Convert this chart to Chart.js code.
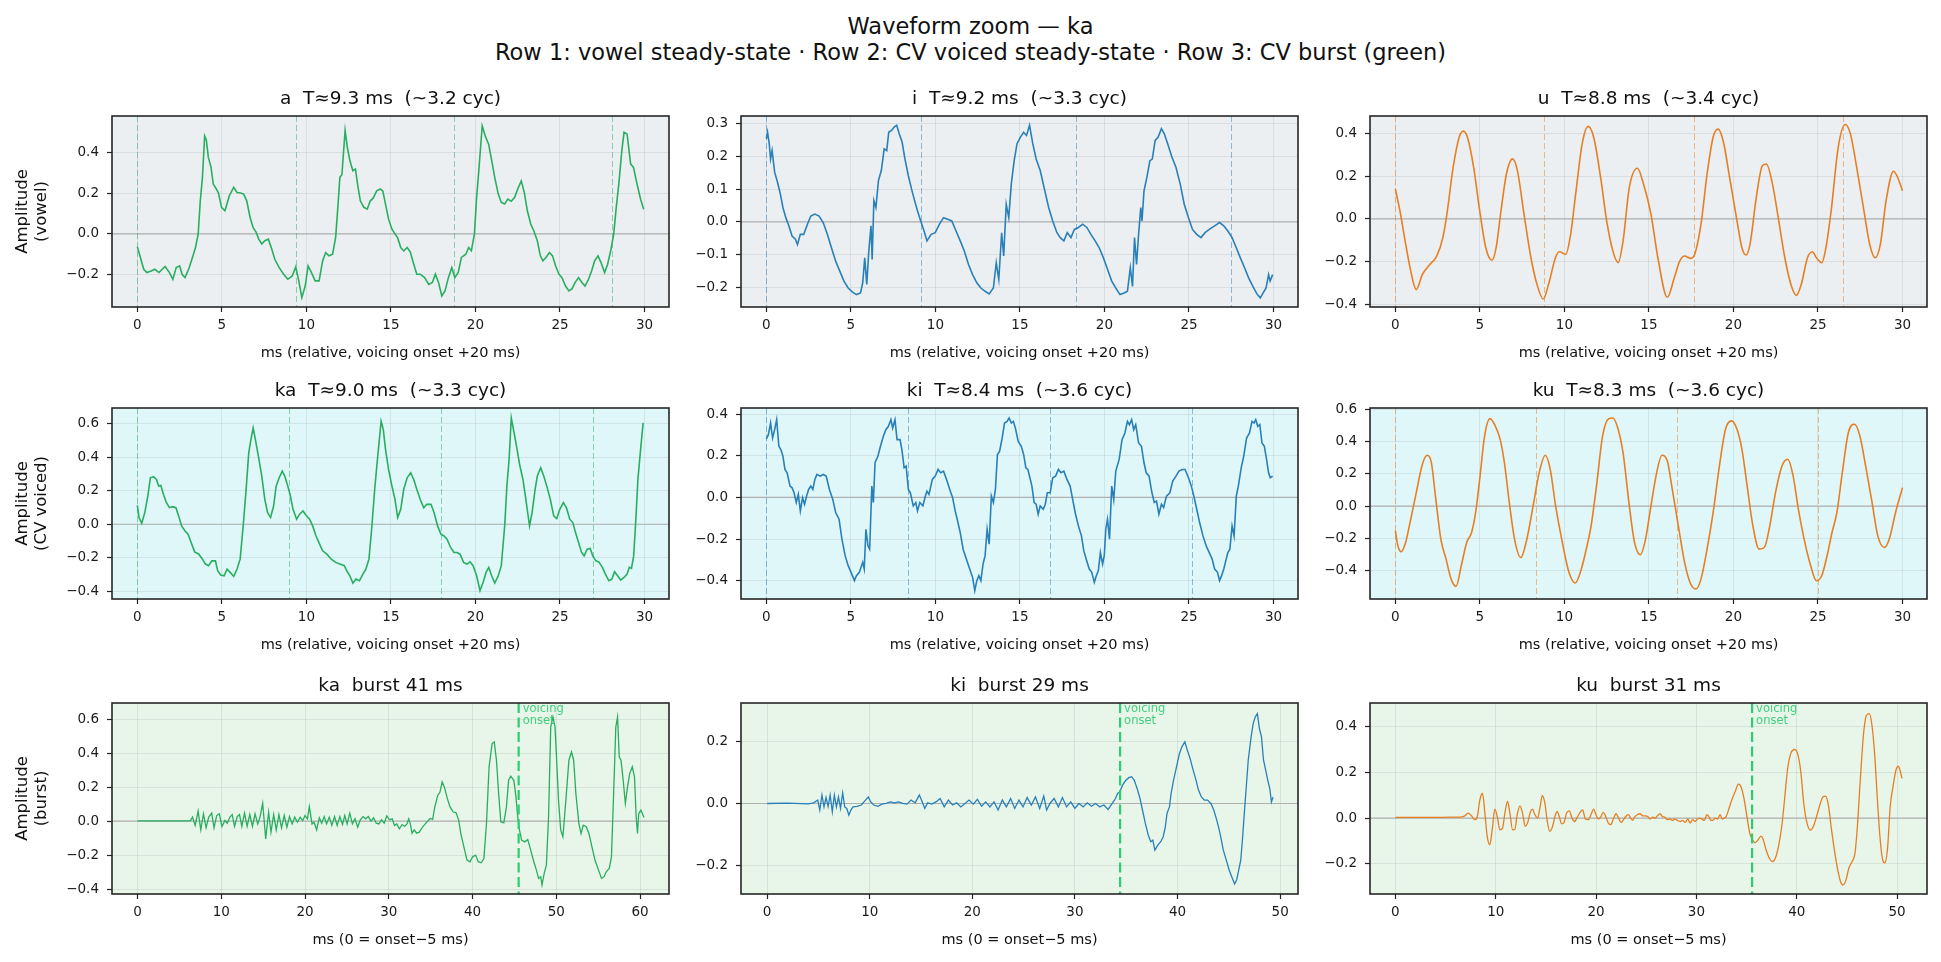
<!DOCTYPE html>
<html><head><meta charset="utf-8">
<script src="https://cdn.jsdelivr.net/npm/chart.js@4.4.1/dist/chart.umd.min.js"></script>
<style>
html,body{margin:0;padding:0;background:#fff;}
body{width:1941px;height:962px;position:relative;overflow:hidden;font-family:'DejaVu Sans',sans-serif;}
#sup{position:absolute;left:0;top:13px;width:1941px;text-align:center;font-size:22.5px;line-height:26px;color:#111;}
canvas{position:absolute;}
</style></head><body>
<div id="sup">Waveform zoom — ka<br>Row 1: vowel steady-state · Row 2: CV voiced steady-state · Row 3: CV burst (green)</div>
<script>
// ---------------- data (ms, amplitude) ----------------
const wave_a = [[0,-0.064],[0.18,-0.116],[0.38,-0.174],[0.56,-0.19],[0.82,-0.182],[1.03,-0.174],[1.28,-0.19],[1.64,-0.16],[1.9,-0.19],[2.1,-0.223],[2.3,-0.165],[2.5,-0.157],[2.65,-0.2],[2.82,-0.215],[3.05,-0.17],[3.26,-0.116],[3.44,-0.067],[3.6,0.0],[3.72,0.16],[3.85,0.277],[3.98,0.48],[4.08,0.46],[4.2,0.375],[4.36,0.326],[4.49,0.244],[4.67,0.22],[4.8,0.2],[4.98,0.13],[5.18,0.113],[5.3,0.146],[5.44,0.187],[5.7,0.228],[5.9,0.203],[6.1,0.2],[6.29,0.195],[6.47,0.162],[6.67,0.08],[6.85,0.03],[7.03,0.007],[7.18,-0.026],[7.36,-0.05],[7.54,-0.034],[7.75,-0.026],[7.95,-0.075],[8.13,-0.125],[8.39,-0.166],[8.65,-0.198],[8.9,-0.223],[9.16,-0.207],[9.37,-0.162],[9.55,-0.231],[9.73,-0.313],[9.93,-0.256],[10.1,-0.157],[10.3,-0.19],[10.52,-0.231],[10.75,-0.231],[10.96,-0.133],[11.14,-0.092],[11.34,-0.108],[11.55,-0.1],[11.73,-0.018],[11.86,0.13],[11.98,0.277],[12.1,0.29],[12.29,0.507],[12.42,0.425],[12.57,0.36],[12.75,0.31],[12.9,0.318],[13.04,0.236],[13.19,0.162],[13.4,0.13],[13.6,0.121],[13.78,0.162],[13.95,0.175],[14.16,0.211],[14.37,0.22],[14.52,0.21],[14.68,0.146],[14.86,0.072],[15.06,0.023],[15.24,0.0],[15.4,-0.02],[15.58,-0.067],[15.76,-0.084],[15.96,-0.067],[16.15,-0.09],[16.35,-0.149],[16.53,-0.198],[16.73,-0.198],[16.99,-0.215],[17.24,-0.248],[17.45,-0.239],[17.63,-0.198],[17.82,-0.24],[18.01,-0.305],[18.2,-0.28],[18.4,-0.215],[18.6,-0.166],[18.78,-0.215],[18.98,-0.19],[19.17,-0.116],[19.43,-0.1],[19.6,-0.067],[19.76,-0.083],[19.94,0.0],[20.07,0.18],[20.2,0.31],[20.4,0.53],[20.58,0.48],[20.78,0.44],[20.96,0.36],[21.14,0.277],[21.35,0.195],[21.53,0.154],[21.73,0.146],[21.91,0.17],[22.12,0.16],[22.32,0.179],[22.5,0.22],[22.71,0.26],[22.89,0.203],[23.07,0.113],[23.27,0.048],[23.45,0.015],[23.66,-0.034],[23.84,-0.108],[23.99,-0.133],[24.17,-0.116],[24.38,-0.092],[24.56,-0.108],[24.74,-0.157],[24.94,-0.198],[25.12,-0.215],[25.33,-0.256],[25.53,-0.28],[25.71,-0.27],[25.89,-0.239],[26.1,-0.215],[26.3,-0.239],[26.48,-0.256],[26.69,-0.223],[26.87,-0.182],[27.05,-0.133],[27.25,-0.108],[27.43,-0.141],[27.64,-0.19],[27.82,-0.149],[28.02,-0.075],[28.18,0.0],[28.33,0.13],[28.48,0.244],[28.66,0.408],[28.79,0.498],[28.97,0.49],[29.18,0.343],[29.35,0.326],[29.56,0.244],[29.77,0.17],[29.95,0.121]];

const wave_i = [[0,0.254],[0.07,0.274],[0.17,0.239],[0.25,0.192],[0.34,0.218],[0.49,0.152],[0.66,0.121],[0.83,0.085],[0.98,0.044],[1.15,0.013],[1.33,-0.012],[1.52,-0.043],[1.72,-0.053],[1.84,-0.069],[2.01,-0.038],[2.21,-0.038],[2.43,-0.007],[2.63,0.018],[2.87,0.024],[3.12,0.018],[3.36,-0.002],[3.61,-0.038],[3.85,-0.079],[4.1,-0.12],[4.35,-0.151],[4.59,-0.181],[4.84,-0.202],[5.08,-0.214],[5.33,-0.222],[5.57,-0.217],[5.7,-0.186],[5.82,-0.11],[5.94,-0.191],[6.06,-0.089],[6.19,-0.012],[6.26,-0.115],[6.36,0.065],[6.48,0.044],[6.63,0.126],[6.8,0.157],[6.97,0.223],[7.12,0.218],[7.24,0.274],[7.42,0.28],[7.56,0.29],[7.71,0.295],[7.86,0.269],[8.03,0.244],[8.2,0.192],[8.4,0.141],[8.59,0.1],[8.77,0.065],[8.94,0.034],[9.13,0.003],[9.33,-0.028],[9.5,-0.058],[9.75,-0.038],[9.99,-0.033],[10.24,-0.007],[10.48,0.013],[10.73,0.008],[10.97,0.003],[11.22,-0.028],[11.47,-0.058],[11.71,-0.089],[11.96,-0.13],[12.2,-0.161],[12.45,-0.186],[12.69,-0.202],[12.94,-0.212],[13.18,-0.22],[13.43,-0.202],[13.6,-0.125],[13.75,-0.176],[13.92,-0.033],[14.04,-0.104],[14.19,0.054],[14.34,0.013],[14.49,0.116],[14.66,0.187],[14.83,0.239],[15.03,0.259],[15.22,0.274],[15.39,0.264],[15.57,0.295],[15.76,0.239],[15.96,0.192],[16.2,0.157],[16.45,0.1],[16.7,0.044],[16.94,0.003],[17.19,-0.033],[17.39,-0.048],[17.6,-0.058],[17.8,-0.033],[18.02,-0.048],[18.22,-0.023],[18.46,-0.017],[18.71,-0.007],[18.96,-0.017],[19.2,-0.038],[19.45,-0.058],[19.69,-0.079],[19.94,-0.11],[20.18,-0.145],[20.43,-0.181],[20.67,-0.202],[20.92,-0.222],[21.16,-0.217],[21.36,-0.212],[21.53,-0.14],[21.66,-0.197],[21.78,-0.048],[21.9,-0.13],[22.02,-0.038],[22.15,0.044],[22.22,0.003],[22.34,0.095],[22.51,0.136],[22.69,0.187],[22.83,0.192],[23.0,0.249],[23.18,0.259],[23.37,0.285],[23.54,0.269],[23.74,0.239],[23.99,0.198],[24.23,0.167],[24.48,0.116],[24.72,0.054],[24.97,0.013],[25.21,-0.023],[25.46,-0.038],[25.71,-0.048],[25.95,-0.033],[26.2,-0.023],[26.52,-0.012],[26.81,-0.002],[27.06,-0.012],[27.3,-0.028],[27.55,-0.048],[27.8,-0.079],[28.04,-0.11],[28.29,-0.14],[28.53,-0.171],[28.78,-0.197],[29.02,-0.22],[29.22,-0.232],[29.39,-0.217],[29.56,-0.202],[29.71,-0.161],[29.8,-0.181],[29.95,-0.161]];

const wave_u = [[0,0.14],[0.27,0.038],[0.58,-0.104],[0.87,-0.229],[1.24,-0.331],[1.6,-0.26],[2.04,-0.213],[2.45,-0.174],[2.81,-0.088],[3.05,0.022],[3.42,0.242],[3.78,0.383],[4.02,0.411],[4.26,0.383],[4.63,0.242],[4.99,0.038],[5.35,-0.135],[5.72,-0.194],[5.96,-0.135],[6.25,0.038],[6.57,0.21],[6.93,0.281],[7.22,0.226],[7.61,0.022],[8.02,-0.182],[8.38,-0.307],[8.75,-0.375],[9.11,-0.292],[9.47,-0.182],[9.72,-0.154],[10.08,-0.166],[10.37,-0.072],[10.69,0.132],[11.05,0.351],[11.41,0.433],[11.73,0.383],[12.14,0.195],[12.5,-0.009],[12.87,-0.151],[13.18,-0.205],[13.47,-0.104],[13.84,0.147],[14.32,0.237],[14.68,0.163],[15.12,0.022],[15.53,-0.182],[16.09,-0.367],[16.5,-0.276],[16.82,-0.198],[17.11,-0.174],[17.47,-0.185],[17.71,-0.166],[18.08,-0.025],[18.44,0.21],[18.8,0.383],[19.09,0.42],[19.41,0.359],[19.77,0.195],[20.21,-0.009],[20.5,-0.135],[20.74,-0.169],[20.98,-0.119],[21.35,0.1],[21.71,0.249],[21.95,0.257],[22.31,0.163],[22.68,-0.009],[23.04,-0.182],[23.4,-0.307],[23.72,-0.358],[24.01,-0.307],[24.38,-0.182],[24.67,-0.154],[24.91,-0.182],[25.23,-0.205],[25.47,-0.135],[25.78,0.038],[26.2,0.336],[26.61,0.442],[26.92,0.398],[27.29,0.242],[27.72,0.038],[28.06,-0.119],[28.38,-0.182],[28.69,-0.119],[29.03,0.085],[29.47,0.223],[29.71,0.195],[30.0,0.132]];

const wave_ka = [[0,0.113],[0.1,0.04],[0.26,0.006],[0.44,0.07],[0.62,0.169],[0.77,0.278],[0.95,0.284],[1.13,0.268],[1.26,0.228],[1.39,0.232],[1.54,0.179],[1.72,0.129],[1.9,0.099],[2.1,0.105],[2.28,0.099],[2.44,0.05],[2.62,-0.01],[2.82,-0.04],[3.0,-0.06],[3.18,-0.109],[3.39,-0.165],[3.64,-0.179],[3.85,-0.209],[4.03,-0.238],[4.21,-0.248],[4.41,-0.219],[4.62,-0.219],[4.75,-0.278],[4.93,-0.304],[5.13,-0.308],[5.31,-0.268],[5.49,-0.288],[5.7,-0.312],[5.9,-0.268],[6.08,-0.209],[6.26,-0.01],[6.42,0.189],[6.59,0.427],[6.72,0.507],[6.85,0.576],[6.98,0.507],[7.16,0.407],[7.36,0.288],[7.54,0.149],[7.7,0.07],[7.88,0.04],[8.06,0.109],[8.21,0.228],[8.39,0.278],[8.57,0.318],[8.72,0.288],[8.9,0.228],[9.03,0.179],[9.21,0.089],[9.42,0.03],[9.6,0.06],[9.8,0.079],[9.98,0.054],[10.19,0.03],[10.37,-0.01],[10.57,-0.07],[10.78,-0.119],[10.96,-0.159],[11.21,-0.179],[11.47,-0.209],[11.73,-0.228],[11.98,-0.238],[12.24,-0.248],[12.42,-0.284],[12.57,-0.308],[12.75,-0.352],[12.93,-0.328],[13.14,-0.338],[13.34,-0.298],[13.52,-0.268],[13.7,-0.209],[13.86,-0.03],[14.04,0.209],[14.22,0.407],[14.42,0.616],[14.55,0.566],[14.68,0.447],[14.86,0.328],[15.06,0.228],[15.24,0.149],[15.4,0.04],[15.58,0.089],[15.76,0.209],[15.96,0.278],[16.17,0.308],[16.35,0.268],[16.53,0.209],[16.73,0.149],[16.94,0.099],[17.12,0.119],[17.37,0.119],[17.55,0.07],[17.76,-0.01],[17.96,-0.06],[18.14,-0.07],[18.32,-0.089],[18.53,-0.139],[18.73,-0.169],[18.91,-0.169],[19.09,-0.179],[19.3,-0.228],[19.5,-0.238],[19.68,-0.225],[19.86,-0.248],[20.07,-0.308],[20.27,-0.397],[20.45,-0.348],[20.63,-0.288],[20.79,-0.258],[20.96,-0.308],[21.14,-0.352],[21.35,-0.308],[21.53,-0.248],[21.73,-0.01],[21.86,0.228],[21.99,0.387],[22.12,0.636],[22.25,0.566],[22.43,0.467],[22.63,0.348],[22.81,0.268],[22.94,0.179],[23.09,0.07],[23.2,-0.01],[23.35,0.07],[23.53,0.209],[23.66,0.288],[23.86,0.338],[24.04,0.288],[24.22,0.228],[24.43,0.149],[24.63,0.05],[24.81,0.034],[24.99,0.089],[25.2,0.129],[25.38,0.099],[25.58,0.03],[25.76,0.01],[25.92,-0.05],[26.1,-0.109],[26.28,-0.169],[26.43,-0.189],[26.61,-0.149],[26.79,-0.145],[26.94,-0.189],[27.12,-0.219],[27.3,-0.225],[27.51,-0.258],[27.69,-0.298],[27.89,-0.338],[28.07,-0.328],[28.23,-0.284],[28.41,-0.308],[28.59,-0.334],[28.79,-0.318],[28.97,-0.298],[29.1,-0.258],[29.23,-0.264],[29.36,-0.189],[29.49,0.03],[29.61,0.268],[29.77,0.447],[29.92,0.606]];

const wave_ki = [[0,0.28],[0.12,0.301],[0.25,0.357],[0.37,0.285],[0.49,0.325],[0.61,0.373],[0.74,0.245],[0.86,0.229],[0.98,0.198],[1.1,0.134],[1.23,0.118],[1.4,0.054],[1.52,0.046],[1.64,0.022],[1.77,-0.025],[1.89,0.014],[2.01,-0.065],[2.14,-0.002],[2.26,-0.033],[2.38,0.006],[2.5,0.038],[2.63,0.054],[2.75,0.038],[2.87,0.086],[2.99,0.11],[3.19,0.102],[3.36,0.11],[3.54,0.102],[3.73,0.038],[3.93,-0.01],[4.1,-0.073],[4.3,-0.105],[4.47,-0.201],[4.66,-0.28],[4.84,-0.328],[5.01,-0.36],[5.21,-0.4],[5.33,-0.376],[5.5,-0.36],[5.7,-0.312],[5.79,-0.344],[5.89,-0.153],[6.01,-0.233],[6.11,-0.249],[6.24,0.054],[6.33,-0.025],[6.43,0.166],[6.6,0.198],[6.75,0.245],[6.92,0.293],[7.07,0.325],[7.22,0.341],[7.37,0.373],[7.47,0.333],[7.61,0.373],[7.73,0.277],[7.91,0.277],[8.03,0.222],[8.15,0.142],[8.27,0.15],[8.4,0.038],[8.52,0.022],[8.69,-0.041],[8.84,-0.025],[8.94,-0.065],[9.08,-0.025],[9.26,-0.041],[9.38,-0.002],[9.5,0.03],[9.62,0.014],[9.82,0.086],[9.99,0.102],[10.16,0.134],[10.31,0.118],[10.48,0.126],[10.66,0.086],[10.85,0.038],[11.02,-0.002],[11.17,-0.065],[11.29,-0.105],[11.47,-0.169],[11.64,-0.249],[11.83,-0.296],[12.03,-0.344],[12.2,-0.384],[12.33,-0.448],[12.45,-0.4],[12.57,-0.376],[12.69,-0.4],[12.82,-0.32],[12.94,-0.28],[13.06,-0.153],[13.18,-0.225],[13.31,0.006],[13.43,-0.025],[13.55,0.038],[13.67,0.206],[13.8,0.222],[13.95,0.285],[14.09,0.357],[14.24,0.365],[14.36,0.381],[14.49,0.357],[14.61,0.365],[14.73,0.333],[14.9,0.269],[15.08,0.245],[15.22,0.206],[15.35,0.142],[15.47,0.134],[15.59,0.094],[15.71,0.054],[15.84,-0.025],[15.96,-0.033],[16.08,-0.081],[16.2,-0.041],[16.38,-0.057],[16.5,-0.033],[16.62,0.022],[16.79,0.022],[16.94,0.094],[17.11,0.102],[17.28,0.134],[17.43,0.118],[17.6,0.126],[17.78,0.086],[17.97,0.054],[18.14,-0.018],[18.29,-0.081],[18.46,-0.137],[18.64,-0.185],[18.78,-0.257],[18.95,-0.304],[19.1,-0.344],[19.25,-0.36],[19.4,-0.408],[19.52,-0.376],[19.64,-0.352],[19.76,-0.265],[19.89,-0.32],[19.99,-0.28],[20.08,-0.153],[20.18,-0.105],[20.3,-0.201],[20.43,0.054],[20.55,-0.01],[20.67,0.126],[20.87,0.182],[21.04,0.277],[21.21,0.309],[21.36,0.365],[21.48,0.349],[21.61,0.373],[21.73,0.325],[21.85,0.349],[22.02,0.261],[22.19,0.245],[22.34,0.166],[22.47,0.118],[22.64,0.102],[22.81,0.022],[22.95,-0.025],[23.08,-0.018],[23.22,-0.081],[23.37,-0.033],[23.5,-0.049],[23.67,0.006],[23.87,0.022],[24.04,0.078],[24.23,0.102],[24.41,0.126],[24.6,0.134],[24.77,0.134],[24.97,0.094],[25.14,0.054],[25.29,0.006],[25.46,-0.057],[25.63,-0.121],[25.83,-0.185],[26.02,-0.233],[26.2,-0.265],[26.37,-0.296],[26.52,-0.344],[26.69,-0.36],[26.81,-0.4],[26.93,-0.376],[27.06,-0.344],[27.18,-0.304],[27.3,-0.265],[27.42,-0.249],[27.55,-0.137],[27.67,-0.185],[27.8,0.006],[27.92,0.054],[28.09,0.142],[28.24,0.198],[28.41,0.285],[28.58,0.309],[28.73,0.365],[28.85,0.357],[28.95,0.373],[29.07,0.341],[29.19,0.349],[29.32,0.261],[29.46,0.245],[29.59,0.182],[29.71,0.118],[29.81,0.094],[29.95,0.102]];

const wave_ku = [[0,-0.153],[0.15,-0.245],[0.34,-0.282],[0.58,-0.235],[0.87,-0.101],[1.24,0.085],[1.6,0.26],[1.89,0.315],[2.13,0.27],[2.37,0.064],[2.69,-0.204],[3.0,-0.328],[3.3,-0.452],[3.59,-0.497],[3.9,-0.369],[4.22,-0.225],[4.51,-0.163],[4.75,-0.039],[4.99,0.167],[5.28,0.435],[5.6,0.542],[5.91,0.497],[6.2,0.414],[6.45,0.27],[6.74,0.023],[7.05,-0.204],[7.42,-0.318],[7.78,-0.204],[8.15,0.002],[8.51,0.208],[8.87,0.315],[9.16,0.229],[9.48,0.002],[9.84,-0.204],[10.27,-0.41],[10.64,-0.476],[11.0,-0.39],[11.34,-0.245],[11.58,-0.122],[11.9,0.126],[12.26,0.435],[12.62,0.542],[12.87,0.546],[13.18,0.476],[13.47,0.332],[13.84,0.002],[14.15,-0.225],[14.49,-0.301],[14.8,-0.204],[15.12,0.002],[15.46,0.208],[15.77,0.315],[16.09,0.28],[16.38,0.105],[16.74,-0.122],[17.11,-0.348],[17.47,-0.482],[17.79,-0.513],[18.08,-0.452],[18.44,-0.266],[18.8,-0.039],[19.17,0.249],[19.53,0.476],[19.89,0.528],[20.21,0.476],[20.5,0.353],[20.81,0.126],[21.15,-0.122],[21.52,-0.266],[21.83,-0.256],[22.15,-0.122],[22.49,0.085],[22.87,0.249],[23.21,0.291],[23.53,0.188],[23.84,-0.019],[24.18,-0.204],[24.57,-0.369],[24.91,-0.462],[25.22,-0.431],[25.54,-0.307],[25.83,-0.163],[26.12,-0.039],[26.44,0.208],[26.8,0.456],[27.16,0.507],[27.48,0.435],[27.82,0.249],[28.2,0.023],[28.54,-0.184],[28.93,-0.256],[29.22,-0.204],[29.59,-0.039],[30.0,0.115]];

const wave_ka_burst = [[0,0.002],[6.3,0.002],[6.56,0.024],[6.88,-0.025],[7.23,0.059],[7.55,-0.051],[7.87,0.043],[8.18,-0.039],[8.5,0.024],[8.85,0.047],[9.13,-0.039],[9.45,0.033],[9.76,0.043],[10.08,-0.031],[10.43,0.004],[10.71,-0.012],[11.03,0.024],[11.3,0.039],[11.58,-0.031],[11.9,0.027],[12.17,0.039],[12.45,-0.031],[12.77,0.047],[13.08,-0.031],[13.4,0.039],[13.72,-0.031],[14.03,0.043],[14.35,-0.016],[14.62,0.024],[14.94,0.106],[15.3,-0.104],[15.65,0.053],[15.93,-0.065],[16.25,0.039],[16.56,-0.051],[16.88,0.039],[17.19,-0.039],[17.51,0.033],[17.83,-0.035],[18.14,0.027],[18.46,-0.016],[18.77,0.024],[19.09,-0.006],[19.41,0.024],[19.72,0.004],[20.0,0.033],[20.28,0.014],[20.51,0.086],[20.83,-0.016],[21.07,-0.006],[21.38,-0.051],[21.7,0.02],[21.98,-0.012],[22.29,0.027],[22.57,-0.016],[22.89,0.024],[23.2,-0.025],[23.52,0.027],[23.83,-0.025],[24.15,0.027],[24.47,-0.02],[24.74,0.033],[25.02,-0.016],[25.34,0.047],[25.65,-0.016],[25.97,0.014],[26.28,-0.035],[26.6,0.008],[26.92,0.027],[27.23,0.014],[27.55,0.027],[27.87,0.0],[28.18,0.02],[28.5,-0.012],[28.81,-0.016],[29.13,0.008],[29.45,-0.012],[29.76,0.031],[30.08,0.008],[30.4,0.014],[30.67,-0.025],[30.95,-0.016],[31.26,-0.045],[31.58,-0.02],[31.9,-0.031],[32.17,-0.016],[32.37,0.014],[32.57,-0.016],[32.77,-0.071],[33.04,-0.051],[33.32,-0.071],[33.64,-0.065],[34.04,-0.033],[34.56,-0.004],[34.92,0.016],[35.23,0.01],[35.49,0.084],[35.85,0.153],[36.1,0.17],[36.37,0.231],[36.63,0.202],[36.99,0.133],[37.31,0.084],[37.67,0.055],[38.03,0.049],[38.34,0.006],[38.6,-0.073],[38.96,-0.151],[39.33,-0.229],[39.69,-0.239],[40.0,-0.21],[40.36,-0.2],[40.67,-0.239],[41.04,-0.245],[41.35,-0.22],[41.66,-0.014],[41.97,0.32],[42.33,0.457],[42.59,0.467],[42.85,0.359],[43.11,0.163],[43.37,-0.004],[43.73,-0.01],[44.04,0.084],[44.3,0.241],[44.56,0.265],[44.92,0.241],[45.18,0.143],[45.39,0.025],[45.6,-0.053],[45.85,-0.112],[46.22,-0.122],[46.58,-0.108],[46.84,-0.151],[47.25,-0.229],[47.62,-0.288],[47.88,-0.337],[48.13,-0.327],[48.29,-0.376],[48.55,-0.308],[48.81,-0.259],[49.07,0.025],[49.33,0.555],[49.59,0.614],[49.84,0.555],[50.0,0.398],[50.26,0.124],[50.52,-0.053],[50.78,-0.092],[51.14,0.124],[51.5,0.359],[51.81,0.408],[52.07,0.359],[52.33,0.163],[52.69,-0.014],[52.95,-0.073],[53.21,-0.024],[53.57,-0.033],[53.89,-0.073],[54.25,-0.151],[54.61,-0.229],[55.03,-0.288],[55.39,-0.337],[55.7,-0.327],[55.96,-0.298],[56.32,-0.278],[56.58,-0.21],[56.84,0.163],[57.1,0.555],[57.31,0.614],[57.51,0.378],[57.72,0.359],[57.98,0.241],[58.24,0.104],[58.5,0.202],[58.76,0.28],[59.07,0.32],[59.33,0.261],[59.53,0.025],[59.69,-0.073],[59.84,0.045],[60.1,0.065],[60.47,0.022]];

const wave_ki_burst = [[0,0],[2,0.001],[4,-0.001],[4.53,0.002],[4.93,0.011],[5.13,-0.021],[5.34,0.027],[5.54,-0.011],[5.74,0.019],[5.94,-0.01],[6.14,0.027],[6.35,-0.027],[6.55,0.027],[6.75,-0.011],[6.95,0.021],[7.15,-0.016],[7.36,0.034],[7.56,-0.011],[7.76,-0.016],[7.96,-0.037],[8.16,-0.021],[8.37,-0.011],[8.77,-0.009],[9.18,-0.005],[9.58,0.011],[9.86,0.021],[10.1,0.005],[10.39,-0.005],[10.79,-0.009],[11.2,-0.002],[11.6,0],[12.0,0.005],[12.4,0.002],[12.81,0.005],[13.22,0],[13.62,-0.002],[14.03,0.011],[14.43,0.002],[14.83,0.027],[15.12,0.005],[15.36,-0.016],[15.64,0.002],[16.05,-0.002],[16.45,0.005],[16.86,0.016],[17.26,-0.011],[17.66,0.011],[18.07,-0.005],[18.47,0.002],[18.87,-0.011],[19.28,0],[19.68,0.011],[20.09,-0.002],[20.49,0.013],[20.9,-0.009],[21.3,0.005],[21.71,-0.011],[22.11,0.005],[22.51,-0.021],[22.92,0.011],[23.32,-0.011],[23.73,0.016],[24.13,-0.016],[24.54,0.011],[24.94,-0.011],[25.34,0.019],[25.75,-0.005],[26.15,0.021],[26.56,-0.016],[26.96,0.024],[27.24,-0.021],[27.56,0],[27.97,0.016],[28.38,-0.011],[28.78,0.019],[29.18,-0.011],[29.59,0.005],[29.99,-0.016],[30.39,0],[30.8,-0.011],[31.2,0.002],[31.61,-0.009],[32.01,0],[32.42,-0.011],[32.82,-0.005],[33.23,-0.019],[33.63,0],[33.95,0.016],[34.16,0.032],[34.36,0.037],[34.64,0.059],[34.92,0.073],[35.25,0.083],[35.53,0.086],[35.77,0.075],[36.06,0.048],[36.34,0.016],[36.58,-0.021],[36.86,-0.064],[37.15,-0.102],[37.39,-0.123],[37.59,-0.118],[37.79,-0.15],[38.08,-0.134],[38.36,-0.123],[38.6,-0.107],[38.81,-0.075],[38.97,-0.032],[39.21,-0.011],[39.37,0.032],[39.61,0.075],[39.9,0.118],[40.18,0.16],[40.42,0.182],[40.71,0.198],[40.91,0.176],[41.23,0.144],[41.52,0.107],[41.8,0.075],[42.04,0.043],[42.32,0.021],[42.61,0.011],[42.93,0.011],[43.25,0],[43.53,-0.021],[43.82,-0.053],[44.14,-0.096],[44.46,-0.15],[44.75,-0.182],[45.03,-0.214],[45.27,-0.235],[45.56,-0.259],[45.76,-0.246],[45.96,-0.214],[46.16,-0.182],[46.32,-0.118],[46.48,-0.043],[46.65,0.032],[46.89,0.139],[47.17,0.214],[47.37,0.257],[47.57,0.278],[47.78,0.289],[47.98,0.241],[48.18,0.214],[48.38,0.139],[48.59,0.107],[48.79,0.075],[48.99,0.048],[49.15,0.005],[49.31,0.021]];

const wave_ku_burst = [[0,0.003],[4,0.003],[5.5,0.004],[6.42,0.004],[6.92,0.01],[7.25,0.022],[7.58,0.01],[7.92,-0.007],[8.15,0.004],[8.42,0.08],[8.68,0.109],[8.92,0.022],[9.15,-0.08],[9.41,-0.117],[9.65,-0.051],[9.91,0.039],[10.15,0.007],[10.41,-0.051],[10.68,-0.044],[10.91,0.022],[11.18,0.073],[11.41,0.022],[11.68,-0.051],[11.9,-0.05],[12.14,0.015],[12.41,0.054],[12.67,0.022],[12.94,-0.036],[13.17,-0.022],[13.47,0.029],[13.67,0.039],[13.9,0.015],[14.17,0],[14.4,0.044],[14.64,0.098],[14.9,0.066],[15.14,-0.015],[15.4,-0.058],[15.67,-0.036],[15.9,0.007],[16.13,0.029],[16.33,0.007],[16.57,-0.025],[16.8,-0.02],[17.06,0.022],[17.33,0.032],[17.6,0],[17.86,-0.015],[18.13,0.004],[18.4,0.025],[18.66,0.036],[18.93,-0.004],[19.23,-0.007],[19.49,0.015],[19.76,0.039],[19.99,0.015],[20.23,-0.004],[20.47,0.005],[20.72,0.025],[20.99,0.004],[21.22,-0.022],[21.46,-0.029],[21.72,-0.004],[21.99,0.019],[22.25,0],[22.49,-0.019],[22.72,-0.008],[22.95,0.007],[23.22,0.015],[23.45,0],[23.65,-0.01],[23.88,0.007],[24.12,0.015],[24.38,0.019],[24.65,0.01],[24.9,0.01],[25.15,0.007],[25.38,-0.004],[25.64,0.004],[25.88,0],[26.11,0.01],[26.38,0.019],[26.61,0.007],[26.85,0.004],[27.11,-0.007],[27.35,-0.004],[27.61,-0.01],[27.85,-0.004],[28.11,-0.01],[28.38,-0.015],[28.62,-0.01],[28.88,-0.019],[29.14,-0.004],[29.37,-0.022],[29.64,-0.007],[29.87,-0.015],[30.11,-0.004],[30.31,0],[30.54,-0.004],[30.8,-0.01],[31.04,0.015],[31.24,0.007],[31.44,-0.01],[31.64,-0.01],[31.87,0],[32.1,-0.004],[32.37,0.015],[32.57,-0.004],[32.77,0],[32.97,0.007],[33.2,0.036],[33.53,0.08],[33.87,0.117],[34.18,0.149],[34.42,0.14],[34.71,0.093],[34.99,0.02],[35.32,-0.067],[35.6,-0.096],[35.85,-0.108],[36.13,-0.096],[36.42,-0.079],[36.62,-0.089],[36.95,-0.14],[37.28,-0.177],[37.56,-0.191],[37.85,-0.177],[38.17,-0.126],[38.5,-0.038],[38.78,0.079],[39.07,0.21],[39.4,0.283],[39.8,0.301],[40.13,0.276],[40.42,0.196],[40.7,0.064],[41.03,-0.023],[41.35,-0.053],[41.64,-0.038],[41.97,0.006],[42.25,0.05],[42.58,0.091],[42.86,0.096],[43.15,0.057],[43.47,-0.053],[43.8,-0.155],[44.09,-0.228],[44.37,-0.279],[44.62,-0.293],[44.9,-0.272],[45.19,-0.22],[45.51,-0.191],[45.8,-0.155],[46.04,-0.038],[46.33,0.166],[46.66,0.371],[46.94,0.451],[47.23,0.458],[47.47,0.415],[47.76,0.283],[48.04,0.079],[48.29,-0.082],[48.57,-0.184],[48.78,-0.196],[49.06,-0.126],[49.31,0.05],[49.59,0.137],[49.88,0.21],[50.12,0.228],[50.29,0.21],[50.49,0.174]];

// period markers (ms) and voicing-onset positions (ms)
const periods_a = [0, 9.36, 18.73, 28.07];
const periods_i = [0, 9.16, 18.34, 27.5];
const periods_u = [0, 8.82, 17.64, 26.48];
const periods_ka = [0, 8.98, 17.96, 26.94];
const periods_ki = [0, 8.37, 16.8, 25.19];
const periods_ku = [0, 8.33, 16.65, 25.0];
const onset_ka = 45.5, onset_ki = 34.4, onset_ku = 35.55;

// tick labels
const xt_steady = [0, 5, 10, 15, 20, 25, 30];
const xt_burst60 = [0, 10, 20, 30, 40, 50, 60];
const xt_burst50 = [0, 10, 20, 30, 40, 50];
const yt_a = [-0.2, 0, 0.2, 0.4];
const yt_i = [-0.2, -0.1, 0, 0.1, 0.2, 0.3];
const yt_u = [-0.4, -0.2, 0, 0.2, 0.4];
const yt_ka = [-0.4, -0.2, 0, 0.2, 0.4, 0.6];
const yt_ki = [-0.4, -0.2, 0, 0.2, 0.4];
const yt_ku = [-0.4, -0.2, 0, 0.2, 0.4, 0.6];
const yt_kab = [-0.4, -0.2, 0, 0.2, 0.4, 0.6];
const yt_kib = [-0.2, 0, 0.2];
const yt_kub = [-0.2, 0, 0.2, 0.4];

const titles = ['a  T≈9.3 ms  (~3.2 cyc)', 'i  T≈9.2 ms  (~3.3 cyc)', 'u  T≈8.8 ms  (~3.4 cyc)',
  'ka  T≈9.0 ms  (~3.3 cyc)', 'ki  T≈8.4 ms  (~3.6 cyc)', 'ku  T≈8.3 ms  (~3.6 cyc)',
  'ka  burst 41 ms', 'ki  burst 29 ms', 'ku  burst 31 ms'];
const xlabels = ['ms (relative, voicing onset +20 ms)', 'ms (0 = onset\u22125 ms)'];
const ylabels = [['Amplitude', '(vowel)'], ['Amplitude', '(CV voiced)'], ['Amplitude', '(burst)']];

// ---------------- styling / layout ----------------
const FONT = "'DejaVu Sans', sans-serif";
const LINE = { green: '#27ae60', blue: '#2980b9', orange: '#e67e22' };
const ONSET = '#2ecc71';
const BG = ['#eceff1', '#e0f7fa', '#e8f5e9'];
const COL_X = [112, 741, 1370];
const ROW_Y = [116, 408, 703];
const PW = 557, PH = 191;
const L = 100, T = 40, R = 10, B = 62;

const panels = [
  { r: 0, c: 0, wave: wave_a, color: 'green', xr: [-1.5, 31.45], yr: [-0.359, 0.578], xt: xt_steady, yt: yt_a, periods: periods_a },
  { r: 0, c: 1, wave: wave_i, color: 'blue', xr: [-1.5, 31.45], yr: [-0.26, 0.3235], xt: xt_steady, yt: yt_i, periods: periods_i },
  { r: 0, c: 2, wave: wave_u, color: 'orange', smooth: true, xr: [-1.5, 31.45], yr: [-0.4125, 0.4816], xt: xt_steady, yt: yt_u, periods: periods_u },
  { r: 1, c: 0, wave: wave_ka, color: 'green', xr: [-1.5, 31.45], yr: [-0.447, 0.695], xt: xt_steady, yt: yt_ka, periods: periods_ka },
  { r: 1, c: 1, wave: wave_ki, color: 'blue', xr: [-1.5, 31.45], yr: [-0.488, 0.429], xt: xt_steady, yt: yt_ki, periods: periods_ki },
  { r: 1, c: 2, wave: wave_ku, color: 'orange', smooth: true, xr: [-1.5, 31.45], yr: [-0.575, 0.608], xt: xt_steady, yt: yt_ku, periods: periods_ku },
  { r: 2, c: 0, wave: wave_ka_burst, color: 'green', xr: [-3.05, 63.45], yr: [-0.429, 0.696], xt: xt_burst60, yt: yt_kab, onset: onset_ka },
  { r: 2, c: 1, wave: wave_ki_burst, color: 'blue', xr: [-2.55, 51.74], yr: [-0.291, 0.323], xt: xt_burst50, yt: yt_kib, onset: onset_ki },
  { r: 2, c: 2, wave: wave_ku_burst, color: 'orange', smooth: true, xr: [-2.53, 52.98], yr: [-0.333, 0.505], xt: xt_burst50, yt: yt_kub, onset: onset_ku },
];

function hexA(hex, a) {
  const n = parseInt(hex.slice(1), 16);
  return `rgba(${(n >> 16) & 255},${(n >> 8) & 255},${n & 255},${a})`;
}
const fmtY = v => (Math.abs(v) < 1e-9 ? '0.0' : v.toFixed(1).replace('-', '\u2212'));

const decor = {
  id: 'decor',
  beforeDraw(chart, args, o) {
    const { ctx, chartArea: a } = chart;
    ctx.save();
    ctx.fillStyle = o.bg;
    ctx.fillRect(a.left, a.top, a.right - a.left, a.bottom - a.top);
    ctx.restore();
  },
  beforeDatasetsDraw(chart, args, o) {
    const { ctx, chartArea: a, scales: { x, y } } = chart;
    ctx.save();
    ctx.beginPath(); ctx.rect(a.left, a.top, a.right - a.left, a.bottom - a.top); ctx.clip();
    // zero line
    const y0 = y.getPixelForValue(0);
    ctx.strokeStyle = '#b0b0b0'; ctx.lineWidth = 1.2;
    ctx.beginPath(); ctx.moveTo(a.left, y0); ctx.lineTo(a.right, y0); ctx.stroke();
    // period markers
    if (o.periods) {
      ctx.strokeStyle = hexA(o.color, 0.5); ctx.lineWidth = 1; ctx.setLineDash([6, 3]);
      o.periods.forEach(t => {
        const px = Math.round(x.getPixelForValue(t)) + 0.5;
        ctx.beginPath(); ctx.moveTo(px, a.top); ctx.lineTo(px, a.bottom); ctx.stroke();
      });
    }
    ctx.restore();
  },
  afterDatasetsDraw(chart, args, o) {
    const { ctx, chartArea: a, scales: { x } } = chart;
    ctx.save();
    if (o.onset !== undefined) {
      const px = x.getPixelForValue(o.onset);
      ctx.strokeStyle = ONSET; ctx.lineWidth = 2.2; ctx.setLineDash([10, 4.5]);
      ctx.beginPath(); ctx.moveTo(px, a.top); ctx.lineTo(px, a.bottom); ctx.stroke();
      ctx.setLineDash([]);
      ctx.fillStyle = hexA(ONSET, 0.9);
      ctx.font = `11.5px ${FONT}`; ctx.textAlign = 'left'; ctx.textBaseline = 'middle';
      ctx.fillText('voicing', px + 4, a.top + 6.5);
      ctx.fillText('onset', px + 4, a.top + 18);
    }
    ctx.setLineDash([]);
    ctx.strokeStyle = '#262626'; ctx.lineWidth = 1.6;
    ctx.strokeRect(a.left, a.top, a.right - a.left, a.bottom - a.top);
    ctx.restore();
  }
};

panels.forEach((p, idx) => {
  const cv = document.createElement('canvas');
  const w = PW + L + R, h = PH + T + B;
  cv.width = w; cv.height = h;
  cv.style.left = (COL_X[p.c] - L) + 'px';
  cv.style.top = (ROW_Y[p.r] - T) + 'px';
  cv.style.width = w + 'px'; cv.style.height = h + 'px';
  document.body.appendChild(cv);
  const col = LINE[p.color];
  new Chart(cv, {
    type: 'line',
    data: {
      datasets: [{
        data: p.wave.map(([t, v]) => ({ x: t, y: v })),
        borderColor: col,
        borderWidth: p.r === 2 ? 1.3 : 1.6,
        pointRadius: 0,
        fill: false,
        tension: 0,
        cubicInterpolationMode: p.smooth ? 'monotone' : 'default',
      }]
    },
    options: {
      responsive: false, animation: false, devicePixelRatio: 1,
      events: [],
      layout: { padding: { left: 0, top: 0, right: R, bottom: 0 } },
      plugins: {
        legend: { display: false }, tooltip: { enabled: false },
        title: {
          display: true, text: titles[idx], fullSize: false, color: '#111',
          font: { family: FONT, size: 18.5, weight: 'normal', lineHeight: 1.2 },
          padding: { top: 11.9, bottom: 5.9 }
        },
        decor: { bg: BG[p.r], color: col, periods: p.periods, onset: p.onset }
      },
      scales: {
        x: {
          type: 'linear', min: p.xr[0], max: p.xr[1],
          afterBuildTicks: s => { s.ticks = p.xt.map(v => ({ value: v })); },
          afterFit: s => { s.height = B; },
          ticks: { autoSkip: false, maxRotation: 0, color: '#1a1a1a', padding: 5,
                   font: { family: FONT, size: 13.5 }, callback: v => String(v) },
          grid: { color: 'rgba(0,0,0,0.07)', lineWidth: 1, drawTicks: true, tickLength: 5, tickColor: '#222', tickWidth: 1.2 },
          border: { display: false },
          title: { display: true, text: xlabels[p.r === 2 ? 1 : 0], color: '#111',
                   font: { family: FONT, size: 14.5, lineHeight: 1.2 }, padding: { top: 0, bottom: 7.3 } }
        },
        y: {
          type: 'linear', min: p.yr[0], max: p.yr[1],
          afterBuildTicks: s => { s.ticks = p.yt.map(v => ({ value: v })); },
          afterFit: s => { s.width = L; },
          ticks: { autoSkip: false, color: '#1a1a1a', padding: 8,
                   font: { family: FONT, size: 13.5 }, callback: v => fmtY(v) },
          grid: { color: 'rgba(0,0,0,0.07)', lineWidth: 1, drawTicks: true, tickLength: 5, tickColor: '#222', tickWidth: 1.2 },
          border: { display: false },
          title: { display: p.c === 0, text: ylabels[p.r], color: '#111',
                   font: { family: FONT, size: 16.5, lineHeight: 1.2 }, padding: { top: 0.5, bottom: 0 } }
        }
      }
    },
    plugins: [decor]
  });
});
</script>
</body></html>
